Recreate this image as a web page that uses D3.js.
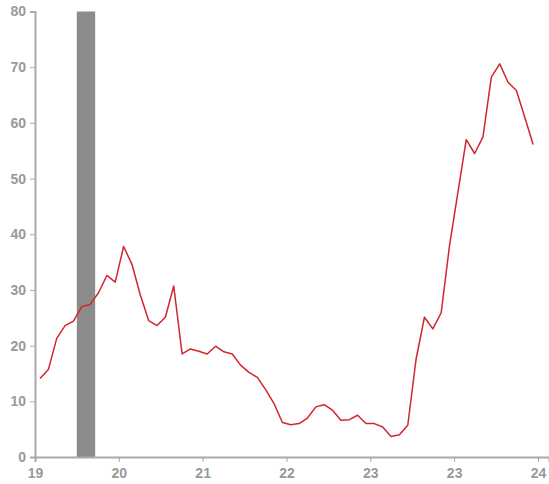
<!DOCTYPE html>
<html>
<head>
<meta charset="utf-8">
<script src="https://cdn.jsdelivr.net/npm/d3@7"></script>
<style>
  html, body { margin: 0; padding: 0; background: #fff; }
  svg { display: block; }
  .axis text { font-family: "Liberation Sans", Arial, sans-serif; font-weight: bold; font-size: 14px; fill: #999; }
  .axis path, .axis line { stroke: #aaa; }
</style>
</head>
<body>
<svg id="chart" width="549" height="484"></svg>
<script>
// Monthly values (index 0..59)
const values = [
  14.1, 15.7, 21.3, 23.6, 24.4, 27.0, 27.4, 29.5, 32.6, 31.4,
  37.8, 34.6, 29.1, 24.5, 23.6, 25.1, 30.7, 18.5, 19.4, 19.0,
  18.5, 19.9, 18.9, 18.5, 16.5, 15.2, 14.3, 12.1, 9.6, 6.2,
  5.8, 6.0, 7.0, 9.0, 9.4, 8.4, 6.6, 6.7, 7.5, 6.0,
  6.0, 5.4, 3.7, 4.0, 5.7, 17.6, 25.1, 23.0, 25.9, 38.0,
  47.5, 57.0, 54.5, 57.5, 68.2, 70.6, 67.3, 65.8, 61.0, 56.1
];
const months = values.map((d, i) => i);

// Shaded band (in month-index units)
const bandStart = [4.4];
const bandEnd = [6.6];

// X tick positions (month-index units) and labels
const xTickValues = [-0.6, 9.43, 19.46, 29.49, 39.52, 49.55, 59.58];
const xTickLabels = ["19", "20", "21", "22", "23", "23", "24"];
const yTickValues = [0, 10, 20, 30, 40, 50, 60, 70, 80];

const xDomain = [-0.6, 60.9];
const yDomain = [0, 80];

const svg = d3.select("#chart");
const margin = { left: 35, right: 0, top: 11.5, bottom: 27 };
const W = 549, H = 484;

const x = d3.scaleLinear().domain(xDomain).range([margin.left, W - margin.right]);
const y = d3.scaleLinear().domain(yDomain).range([H - margin.bottom, margin.top]);

// band
svg.append("g").selectAll("rect")
  .data(bandStart.map((s, i) => ({ s, e: bandEnd[i] })))
  .join("rect")
  .attr("x", d => x(d.s))
  .attr("width", d => x(d.e) - x(d.s))
  .attr("y", y(yDomain[1]))
  .attr("height", y(yDomain[0]) - y(yDomain[1]))
  .attr("fill", "#8c8c8c");

// line
const line = d3.line().x((d, i) => x(months[i])).y(d => y(d));
svg.append("path")
  .datum(values)
  .attr("fill", "none")
  .attr("stroke", "#d0262d")
  .attr("stroke-width", 1.5)
  .attr("stroke-linejoin", "round")
  .attr("d", line);

// axes
const xAxis = d3.axisBottom(x)
  .tickValues(xTickValues)
  .tickFormat((d, i) => xTickLabels[i])
  .tickSizeOuter(0)
  .tickSize(5)
  .tickPadding(6);
const gx = svg.append("g").attr("class", "axis")
  .attr("transform", `translate(0,${y(0)})`)
  .call(xAxis);
gx.select(".domain").attr("stroke-width", 2);

const yAxis = d3.axisLeft(y)
  .tickValues(yTickValues)
  .tickSizeOuter(0)
  .tickSize(5)
  .tickPadding(4);
const gy = svg.append("g").attr("class", "axis")
  .attr("transform", `translate(${margin.left},0)`)
  .call(yAxis);
gy.select(".domain").attr("stroke-width", 2);
</script>
</body>
</html>
